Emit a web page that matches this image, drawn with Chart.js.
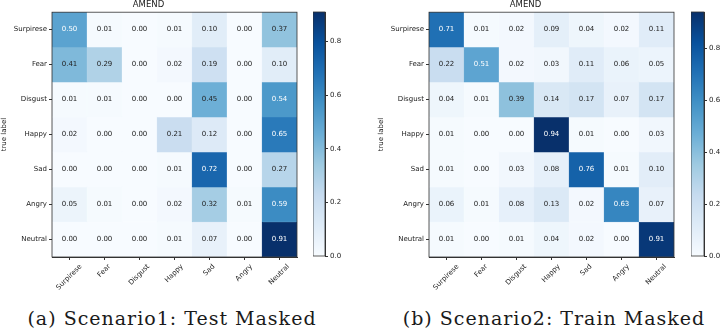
<!DOCTYPE html>
<html>
<head>
<meta charset="utf-8">
<script src="https://cdn.jsdelivr.net/npm/chart.js@4/dist/chart.umd.min.js"></script>
<style>
  body { margin: 0; background: #fff; width: 720px; height: 333px; position: relative; overflow: hidden; }
  canvas { position: absolute; }
  .caption { position: absolute; font-family: "DejaVu Serif", serif; font-size: 19px; line-height: 19px; letter-spacing: 1px; color: #1a1a1a; white-space: nowrap; text-align: center; }
</style>
</head>
<body>
<canvas id="matrixA" style="left:0px;top:0px;width:305px;height:300px" width="305" height="300"></canvas>
<canvas id="barA" style="left:313px;top:0px;width:42px;height:300px" width="42" height="300"></canvas>
<canvas id="matrixB" style="left:377px;top:0px;width:305px;height:300px" width="305" height="300"></canvas>
<canvas id="barB" style="left:691px;top:0px;width:29px;height:300px" width="29" height="300"></canvas>
<div class="caption" style="left:12px;top:309px;width:320px">(a) Scenario1: Test Masked</div>
<div class="caption" style="left:394px;top:309px;width:320px">(b) Scenario2: Train Masked</div>
<script>
const emotions = ['Surpirese', 'Fear', 'Disgust', 'Happy', 'Sad', 'Angry', 'Neutral'];

const scenario1 = [
  [0.50, 0.01, 0.00, 0.01, 0.10, 0.00, 0.37],
  [0.41, 0.29, 0.00, 0.02, 0.19, 0.00, 0.10],
  [0.01, 0.01, 0.00, 0.00, 0.45, 0.00, 0.54],
  [0.02, 0.00, 0.00, 0.21, 0.12, 0.00, 0.65],
  [0.00, 0.00, 0.00, 0.01, 0.72, 0.00, 0.27],
  [0.05, 0.01, 0.00, 0.02, 0.32, 0.01, 0.59],
  [0.00, 0.00, 0.00, 0.01, 0.07, 0.00, 0.91]
];

const scenario2 = [
  [0.71, 0.01, 0.02, 0.09, 0.04, 0.02, 0.11],
  [0.22, 0.51, 0.02, 0.03, 0.11, 0.06, 0.05],
  [0.04, 0.01, 0.39, 0.14, 0.17, 0.07, 0.17],
  [0.01, 0.00, 0.00, 0.94, 0.01, 0.00, 0.03],
  [0.01, 0.00, 0.03, 0.08, 0.76, 0.01, 0.10],
  [0.06, 0.01, 0.08, 0.13, 0.02, 0.63, 0.07],
  [0.01, 0.00, 0.01, 0.04, 0.02, 0.00, 0.91]
];

const colorbarTicks = [0.0, 0.2, 0.4, 0.6, 0.8];

// matplotlib "Blues"
const bluesStops = ['#f7fbff', '#deebf7', '#c6dbef', '#9ecae1', '#6baed6', '#4292c6', '#2171b5', '#08519c', '#08306b'];

function hexToRgb(h) {
  return [parseInt(h.slice(1, 3), 16), parseInt(h.slice(3, 5), 16), parseInt(h.slice(5, 7), 16)];
}

function blues(t) {
  t = Math.max(0, Math.min(1, t));
  let pos = t * (bluesStops.length - 1);
  let i = Math.min(Math.floor(pos), bluesStops.length - 2);
  let f = pos - i;
  let a = hexToRgb(bluesStops[i]), b = hexToRgb(bluesStops[i + 1]);
  let c = a.map((v, k) => Math.round(v + (b[k] - v) * f));
  return 'rgb(' + c.join(',') + ')';
}

Chart.defaults.font.family = 'DejaVu Sans';
Chart.defaults.font.size = 7;
Chart.defaults.color = '#222';
Chart.defaults.animation = false;

const frame = {
  id: 'frame',
  afterDraw(chart) {
    const a = chart.chartArea;
    const ctx = chart.ctx;
    ctx.save();
    ctx.strokeStyle = '#333';
    ctx.lineWidth = 0.8;
    ctx.strokeRect(a.left, a.top, a.right - a.left, a.bottom - a.top);
    ctx.restore();
  }
};

const cellText = {
  id: 'cellText',
  afterDatasetsDraw(chart) {
    const ctx = chart.ctx;
    ctx.save();
    ctx.font = '7px "DejaVu Sans"';
    ctx.textAlign = 'center';
    ctx.textBaseline = 'middle';
    chart.data.datasets.forEach((ds, r) => {
      const meta = chart.getDatasetMeta(r);
      meta.data.forEach((bar, j) => {
        const v = ds.values[j];
        const p = bar.getCenterPoint();
        ctx.fillStyle = v > ds.vmax / 2 ? '#fff' : '#222';
        ctx.fillText(v.toFixed(2), p.x, p.y);
      });
    });
    ctx.restore();
  }
};

// rotated x labels, centred under their tick like matplotlib's rotation=45
const slantLabels = {
  id: 'slantLabels',
  afterDraw(chart) {
    const s = chart.scales.x;
    const ctx = chart.ctx;
    const h = 8;
    ctx.save();
    ctx.font = '7px "DejaVu Sans"';
    ctx.fillStyle = '#222';
    ctx.textAlign = 'right';
    ctx.textBaseline = 'top';
    s.getLabels().forEach((lab, i) => {
      const w = ctx.measureText(lab).width;
      const x = s.getPixelForTick(i) + Math.SQRT1_2 * (w - h) / 2;
      const y = chart.chartArea.bottom + 6;
      ctx.save();
      ctx.translate(x, y);
      ctx.rotate(-Math.PI / 4);
      ctx.fillText(lab, 0, 0);
      ctx.restore();
    });
    ctx.restore();
  }
};

function drawMatrix(canvasId, matrix) {
  const vmax = Math.max(...matrix.flat());

  let myDatasets = matrix.map((row, r) => ({
    data: row.map(() => [r - 0.5, r + 0.5]),
    values: row,
    vmax: vmax,
    backgroundColor: row.map(v => blues(v / vmax)),
    borderColor: row.map(v => blues(v / vmax)),
    borderWidth: 0.5,
    borderSkipped: false,
    barPercentage: 1,
    categoryPercentage: 1,
    grouped: false
  }));

  let myOptions = {
    responsive: false,
    layout: { padding: { right: 8 } },
    plugins: {
      legend: { display: false },
      tooltip: { enabled: false },
      title: {
        display: true,
        text: 'AMEND',
        color: '#222',
        font: { size: 8.5, weight: 'normal' },
        padding: { top: 0, bottom: 2 }
      }
    },
    scales: {
      x: {
        type: 'category',
        labels: emotions,
        grid: { drawOnChartArea: false, offset: false, tickLength: 3, color: '#333' },
        border: { color: '#333' },
        ticks: { display: false, autoSkip: false },
        afterFit: s => { s.height = 43; }
      },
      y: {
        type: 'linear',
        min: -0.5,
        max: 6.5,
        reverse: true,
        grid: { drawOnChartArea: false, tickLength: 3, color: '#333' },
        border: { color: '#333' },
        afterBuildTicks: s => { s.ticks = emotions.map((_, i) => ({ value: i })); },
        ticks: { callback: v => emotions[v], padding: 2 },
        title: { display: true, text: 'true label', padding: 0, font: { size: 7 } },
        afterFit: s => { s.width = 52; }
      }
    }
  };

  new Chart(document.getElementById(canvasId), {
    type: 'bar',
    data: { labels: emotions, datasets: myDatasets },
    options: myOptions,
    plugins: [cellText, frame, slantLabels]
  });

  return vmax;
}

function drawColorbar(canvasId, vmax, barWidth) {
  const el = document.getElementById(canvasId);
  new Chart(el, {
    type: 'bar',
    data: {
      labels: [''],
      datasets: [{
        data: [[0, vmax]],
        borderWidth: 0,
        barPercentage: 1,
        categoryPercentage: 1,
        backgroundColor: ctx => {
          const a = ctx.chart.chartArea;
          if (!a) return blues(0.5);
          const g = ctx.chart.ctx.createLinearGradient(0, a.bottom, 0, a.top);
          bluesStops.forEach((c, i) => g.addColorStop(i / (bluesStops.length - 1), c));
          return g;
        }
      }]
    },
    options: {
      responsive: false,
      layout: { padding: { top: 12, bottom: 44, left: 0, right: 0 } },
      plugins: { legend: { display: false }, tooltip: { enabled: false } },
      scales: {
        x: { display: false },
        y: {
          position: 'right',
          min: 0,
          max: vmax,
          grid: { drawOnChartArea: false, tickLength: 3, color: '#333' },
          border: { color: '#333' },
          afterBuildTicks: s => { s.ticks = colorbarTicks.map(v => ({ value: v })); },
          ticks: { callback: v => v.toFixed(1), padding: 2 },
          afterFit: s => { s.width = el.width - barWidth; }
        }
      }
    },
    plugins: [frame]
  });
}

const maxA = drawMatrix('matrixA', scenario1);
const maxB = drawMatrix('matrixB', scenario2);
drawColorbar('barA', maxA, 12);
drawColorbar('barB', maxB, 13);
</script>
</body>
</html>
